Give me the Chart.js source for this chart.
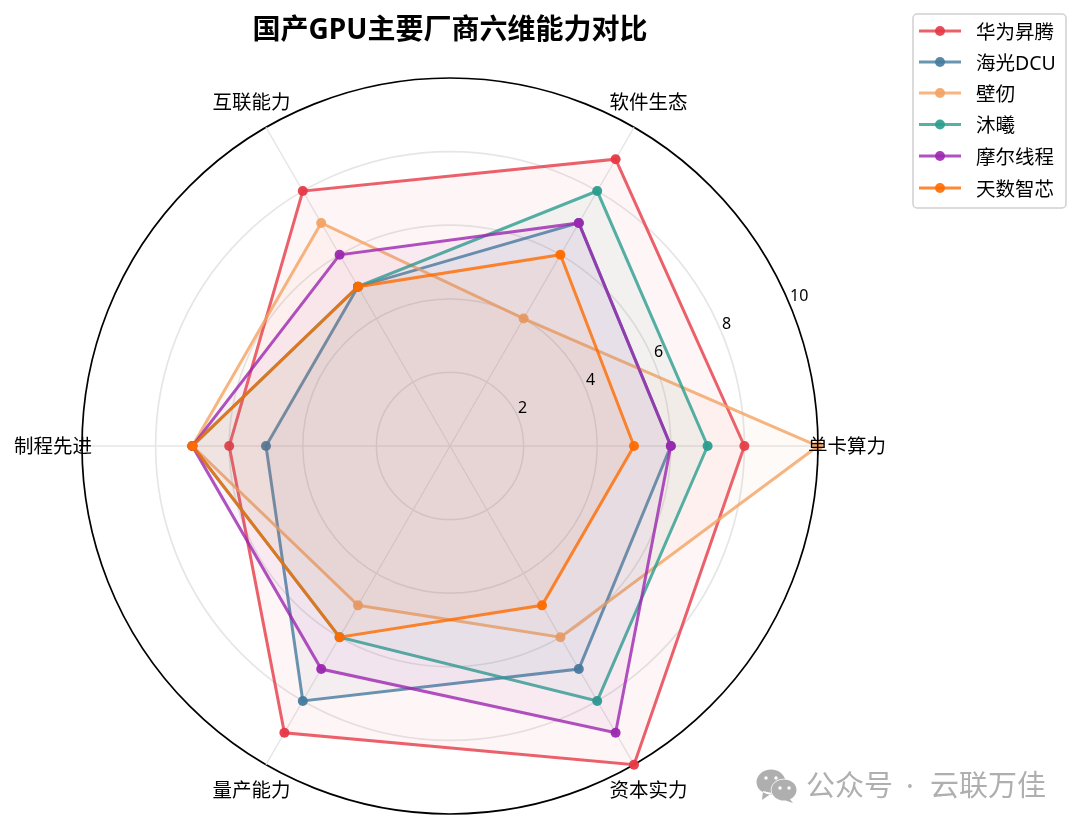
<!DOCTYPE html>
<html>
<head>
<meta charset="utf-8">
<style>
  html, body { margin: 0; padding: 0; background: #fff; }
  canvas { display: block; }
</style>
<script src="https://cdn.jsdelivr.net/npm/chart.js@4"></script>
</head>
<body>
<canvas id="myChart" width="1080" height="829"></canvas>
<script>
const categories = ['单卡算力', '资本实力', '量产能力', '制程先进', '互联能力', '软件生态'];
const seriesNames = ['华为昇腾', '海光DCU', '壁仞', '沐曦', '摩尔线程', '天数智芯'];
const huawei = [8, 10, 9, 6, 8, 9];
const hygon = [6, 7, 8, 5, 5, 7];
const biren = [10, 6, 5, 7, 7, 4];
const muxi = [7, 8, 6, 7, 5, 8];
const moore = [6, 9, 7, 7, 6, 7];
const tianshu = [5, 5, 6, 7, 5, 6];
const seriesValues = [huawei, hygon, biren, muxi, moore, tianshu];
const seriesColors = ['230,57,70', '69,123,157', '244,162,97', '42,157,143', '156,39,176', '255,107,0'];
const tickLabels = [2, 4, 6, 8, 10];

const fontName = '"Noto Sans", "Noto Sans CJK SC", sans-serif';

// labels, legend and watermark sit where the radar defaults can't put them
const extras = {
    id: 'extras',
    afterDraw(chart) {
        const c = chart.ctx;
        const r = chart.scales.r;
        c.save();

        c.fillStyle = '#000';
        c.font = '19.5px ' + fontName;
        c.textAlign = 'center';
        c.textBaseline = 'middle';
        categories.forEach((name, i) => {
            const p = r.getPointPosition(i, r.drawingArea * 1.079);
            c.fillText(name, p.x, p.y + 1.5);
        });

        c.font = '16px ' + fontName;
        c.textAlign = 'left';
        const tickAngle = 22.5 * Math.PI / 180;
        tickLabels.forEach(v => {
            const d = r.getDistanceFromCenterForValue(v);
            c.fillText(String(v), r.xCenter + d * Math.cos(tickAngle), r.yCenter - d * Math.sin(tickAngle) - 9);
        });

        // legend
        c.beginPath();
        c.roundRect(913, 14, 153, 194, 4);
        c.fillStyle = 'rgba(255,255,255,0.8)';
        c.fill();
        c.strokeStyle = '#d0d0d0';
        c.lineWidth = 1.5;
        c.stroke();
        const legendY = [31, 62, 93, 124.5, 156, 188];
        seriesNames.forEach((name, i) => {
            const y = legendY[i];
            c.strokeStyle = 'rgba(' + seriesColors[i] + ',0.8)';
            c.lineWidth = 3;
            c.beginPath();
            c.moveTo(919, y);
            c.lineTo(961, y);
            c.stroke();
            c.fillStyle = 'rgba(' + seriesColors[i] + ',0.9)';
            c.beginPath();
            c.arc(940, y, 5, 0, Math.PI * 2);
            c.fill();
            c.fillStyle = '#000';
            c.font = '19.5px ' + fontName;
            c.fillText(name, 976, y + 2);
        });

        // watermark
        c.fillStyle = '#afafaf';
        c.font = '29px ' + fontName;
        c.fillText('公众号', 806, 788);
        c.fillText('·', 906, 788);
        c.fillText('云联万佳', 930, 788);
        c.beginPath();
        c.ellipse(771, 782, 14.5, 12.5, 0, 0, Math.PI * 2);
        c.moveTo(763, 791);
        c.lineTo(762, 800);
        c.lineTo(772, 793);
        c.fill();
        c.strokeStyle = '#fff';
        c.lineWidth = 1.5;
        c.beginPath();
        c.ellipse(784, 790, 12.5, 10.5, 0, 0, Math.PI * 2);
        c.stroke();
        c.beginPath();
        c.ellipse(784, 790, 12.5, 10.5, 0, 0, Math.PI * 2);
        c.moveTo(789, 798);
        c.lineTo(793, 803);
        c.lineTo(781, 799);
        c.fill();
        c.fillStyle = '#fff';
        [[766, 778], [776, 778], [780, 788], [789, 788]].forEach(e => {
            c.beginPath();
            c.arc(e[0], e[1], 1.7, 0, Math.PI * 2);
            c.fill();
        });
        c.restore();
    }
};

const ctx = document.getElementById('myChart').getContext('2d');

new Chart(ctx, {
    type: 'radar',
    data: {
        labels: categories,
        datasets: seriesNames.map((name, i) => ({
            label: name,
            data: seriesValues[i],
            order: seriesNames.length - i,
            borderColor: 'rgba(' + seriesColors[i] + ',0.8)',
            backgroundColor: 'rgba(' + seriesColors[i] + ',0.05)',
            borderWidth: 3,
            fill: true,
            pointRadius: 5,
            pointBorderWidth: 0,
            pointBackgroundColor: 'rgba(' + seriesColors[i] + ',0.95)'
        }))
    },
    options: {
        responsive: false,
        animation: false,
        layout: {
            padding: { left: 82, right: 262, top: 0, bottom: 15 }
        },
        scales: {
            r: {
                startAngle: 90,
                min: 0,
                max: 10,
                ticks: {
                    stepSize: 2,
                    display: false
                },
                pointLabels: {
                    display: false
                },
                grid: {
                    circular: true,
                    color: c => c.tick && c.tick.value === 10 ? '#000' : '#e6e6e6',
                    lineWidth: 1.7
                },
                angleLines: {
                    color: '#e6e6e6',
                    lineWidth: 1.4
                }
            }
        },
        plugins: {
            legend: {
                display: false
            },
            tooltip: {
                enabled: false
            },
            title: {
                display: true,
                text: '国产GPU主要厂商六维能力对比',
                fullSize: false,
                color: '#000',
                font: { family: fontName, size: 28, weight: 'bold', lineHeight: 1.2 },
                padding: { top: 14, bottom: 30.4 }
            }
        }
    },
    plugins: [extras]
});
</script>
</body>
</html>
